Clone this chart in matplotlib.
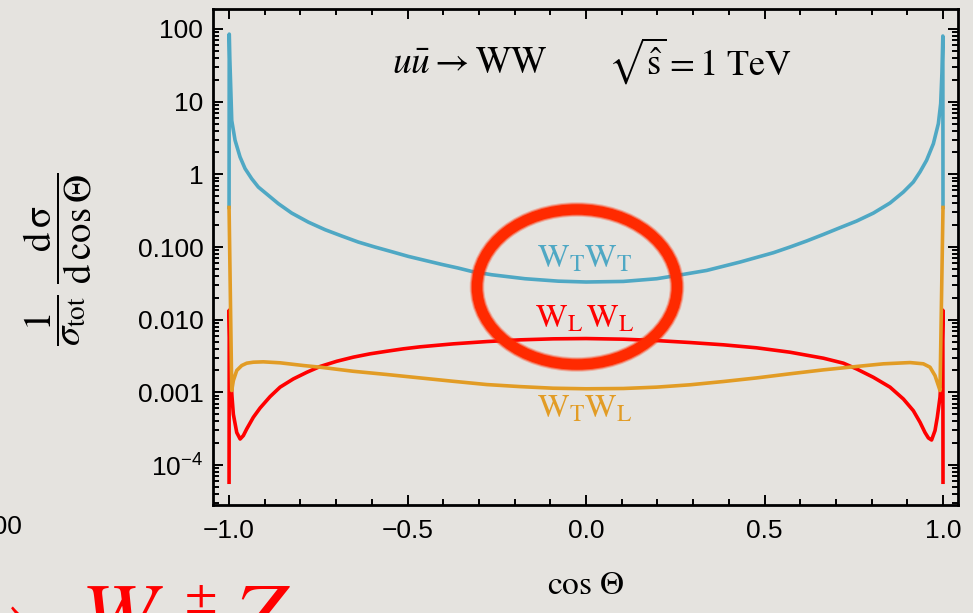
import numpy as np
import matplotlib.pyplot as plt
from matplotlib.patches import Ellipse
from matplotlib.ticker import FixedLocator, LogLocator, NullFormatter

# normalised angular distributions for u ubar -> WW at sqrt(s)=1 TeV
cos_tt = [-1.0, -0.9995, -0.998, -0.996, -0.9925, -0.9832, -0.9692, -0.9552, -0.9365,
          -0.918, -0.890, -0.862, -0.8245, -0.778, -0.731, -0.684, -0.638, -0.591,
          -0.544, -0.498, -0.451, -0.404, -0.358, -0.320, -0.264, -0.171, -0.078,
          0.0, 0.1045, 0.198, 0.2726, 0.338, 0.431, 0.5247, 0.571, 0.618, 0.665,
          0.711, 0.758, 0.805, 0.8515, 0.889, 0.9168, 0.9356, 0.954, 0.973, 0.987,
          0.9935, 0.997, 0.9995, 1.0]
val_tt = [0.35, 85, 40, 20, 5.5, 2.94, 1.73, 1.20, 0.87,
          0.668, 0.514, 0.395, 0.293, 0.220, 0.173, 0.1415, 0.117, 0.0998,
          0.0861, 0.0743, 0.0654, 0.0576, 0.0513, 0.0461, 0.0415, 0.0366, 0.0339,
          0.033, 0.0336, 0.0366, 0.042, 0.0476, 0.062, 0.0834, 0.0998, 0.121, 0.149,
          0.184, 0.2275, 0.293, 0.403, 0.571, 0.783, 1.08, 1.56, 2.64, 4.99,
          9.4, 25, 80, 0.35]

cos_ll = [-1.0, -0.9995, -0.996, -0.992, -0.988, -0.9785, -0.969, -0.960, -0.9505,
          -0.932, -0.913, -0.885, -0.857, -0.820, -0.782, -0.745, -0.698, -0.652,
          -0.605, -0.558, -0.512, -0.465, -0.372, -0.278, -0.185, -0.0916, 0.0,
          0.1045, 0.198, 0.291, 0.385, 0.478, 0.571, 0.665, 0.721, 0.758, 0.805,
          0.8515, 0.889, 0.9168, 0.9356, 0.9496, 0.959, 0.968, 0.9776, 0.984,
          0.9916, 0.996, 0.9995, 1.0]
val_ll = [5.8e-5, 0.0135, 2.0e-3, 9.0e-4, 5.0e-4, 2.8e-4, 2.28e-4, 2.54e-4, 3.14e-4,
          4.54e-4, 6.1e-4, 8.75e-4, 1.18e-3, 1.53e-3, 1.89e-3, 2.27e-3, 2.68e-3, 3.05e-3,
          3.39e-3, 3.68e-3, 3.97e-3, 4.23e-3, 4.65e-3, 5.0e-3, 5.28e-3, 5.45e-3, 5.5e-3,
          5.39e-3, 5.16e-3, 4.85e-3, 4.51e-3, 4.1e-3, 3.57e-3, 2.95e-3, 2.52e-3, 2.1e-3, 1.61e-3,
          1.18e-3, 8.1e-4, 5.6e-4, 3.88e-4, 2.8e-4, 2.36e-4, 2.21e-4, 2.98e-4, 4.54e-4,
          8.6e-4, 2.0e-3, 0.0135, 5.8e-5]

cos_tl = [-1.0, -0.9925, -0.988, -0.9785, -0.9645, -0.9505, -0.932, -0.904, -0.857,
          -0.792, -0.745, -0.652, -0.558, -0.465, -0.372, -0.278, -0.185, -0.092,
          0.0, 0.1045, 0.198, 0.291, 0.385, 0.478, 0.571, 0.665, 0.758, 0.833,
          0.9076, 0.945, 0.9636, 0.9776, 0.987, 0.9916, 1.0]
val_tl = [0.35, 1.06e-3, 1.45e-3, 2.0e-3, 2.34e-3, 2.52e-3, 2.6e-3, 2.63e-3, 2.55e-3,
          2.34e-3, 2.22e-3, 1.95e-3, 1.76e-3, 1.58e-3, 1.42e-3, 1.28e-3, 1.2e-3, 1.14e-3,
          1.12e-3, 1.13e-3, 1.18e-3, 1.27e-3, 1.41e-3, 1.58e-3, 1.8e-3, 2.04e-3, 2.27e-3, 2.47e-3,
          2.57e-3, 2.47e-3, 2.22e-3, 1.70e-3, 1.24e-3, 1.06e-3, 0.35]

xticks = [-1.0, -0.5, 0.0, 0.5, 1.0]
xticklabels = ['\u22121.0', '\u22120.5', '0.0', '0.5', '1.0']
yticks = [1e-4, 1e-3, 1e-2, 1e-1, 1, 10, 100]
yticklabels = [r'$\mathregular{10^{-4}}$', '0.001', '0.010', '0.100', '1', '10', '100']

bg = '#e5e3df'
blue = '#4fa8c4'
orange = '#e29c25'
red = '#ff0000'

W, H = 973, 613
def fx(px):
    return px / W
def fy(py):
    return 1 - py / H

plt.rcParams['font.family'] = ['Liberation Sans', 'DejaVu Sans']
plt.rcParams['mathtext.fontset'] = 'stix'

fig = plt.figure(figsize=(9.73, 6.13), dpi=100, facecolor=bg)
ax = fig.add_axes([fx(213), fy(505), fx(958) - fx(213), fy(9) - fy(505)])
ax.set_facecolor(bg)

ax.plot(cos_tt, val_tt, color=blue, lw=2.6, solid_joinstyle='round')
ax.plot(cos_ll, val_ll, color=red, lw=2.6, solid_joinstyle='round')
ax.plot(cos_tl, val_tl, color=orange, lw=2.6, solid_joinstyle='round')

ax.set_yscale('log')
ax.set_xlim(-1.045, 1.042)
ax.set_ylim(10 ** -4.55, 10 ** 2.275)

ax.set_xticks(xticks)
ax.set_xticklabels(xticklabels)
ax.xaxis.set_minor_locator(FixedLocator(np.arange(-1.0, 1.01, 0.1)))
ax.set_yticks(yticks)
ax.set_yticklabels(yticklabels)
ax.yaxis.set_minor_locator(LogLocator(base=10, subs=np.arange(2, 10), numticks=30))
ax.yaxis.set_minor_formatter(NullFormatter())

ax.tick_params(which='both', direction='in', top=True, right=True, width=1.4,
               color='black', labelsize=19, labelcolor='black')
ax.tick_params(which='major', length=7)
ax.tick_params(which='minor', length=4.5)
ax.tick_params(axis='y', pad=7)
ax.tick_params(axis='x', pad=10)
for s in ax.spines.values():
    s.set_linewidth(2.0)
    s.set_color('black')

# axis labels
fig.text(fx(586), fy(585), r'$\cos\,\Theta$', ha='center', va='center', fontsize=24)
fig.text(fx(58), fy(259), r'$\dfrac{1}{\sigma_{\rm tot}}\;\dfrac{\rm d\,\sigma}{\rm d\,\cos\Theta}$',
         ha='center', va='center', rotation=90, fontsize=28)

# process and energy
fig.text(fx(392), fy(73), r'$u\bar{u} \rightarrow \mathrm{WW}$', ha='left',
         va='baseline', fontsize=27)
fig.text(fx(608), fy(75), r'$\sqrt{\hat{\mathrm{s}}} = 1\ \mathrm{TeV}$', ha='left',
         va='baseline', fontsize=26)

# curve labels
fig.text(fx(585), fy(268), r'$\mathrm{W_T W_T}$', ha='center', va='baseline',
         fontsize=24, color=blue)
fig.text(fx(585), fy(327), r'$\mathrm{W_L\, W_L}$', ha='center', va='baseline',
         fontsize=24, color=red)
fig.text(fx(585), fy(417), r'$\mathrm{W_T W_L}$', ha='center', va='baseline',
         fontsize=24, color=orange)

# highlight ring, softened edge
for lw, a in [(10.5, 0.25), (9.0, 0.5), (7.5, 1.0)]:
    ring = Ellipse((fx(577), fy(287)), width=200 / W, height=155 / H,
                   transform=fig.transFigure, fill=False, ec='#ff2a00', lw=lw,
                   alpha=a, zorder=5)
    fig.add_artist(ring)

# neighbouring slide content
fig.text(fx(22), fy(527), '100', ha='right', va='center', fontsize=19)
fig.text(fx(-57), fy(645), r'$\rightarrow$', ha='left', va='baseline',
         fontsize=65, color='red')
fig.text(fx(80), fy(645), r'$W$', ha='left', va='baseline', fontsize=65, color='red')
fig.text(fx(184), fy(575), r'$\pm$', ha='left', va='top', fontsize=34, color='red')
fig.text(fx(234), fy(645), r'$Z$', ha='left', va='baseline', fontsize=65, color='red')

fig.savefig('out.png', dpi=100, facecolor=bg)
